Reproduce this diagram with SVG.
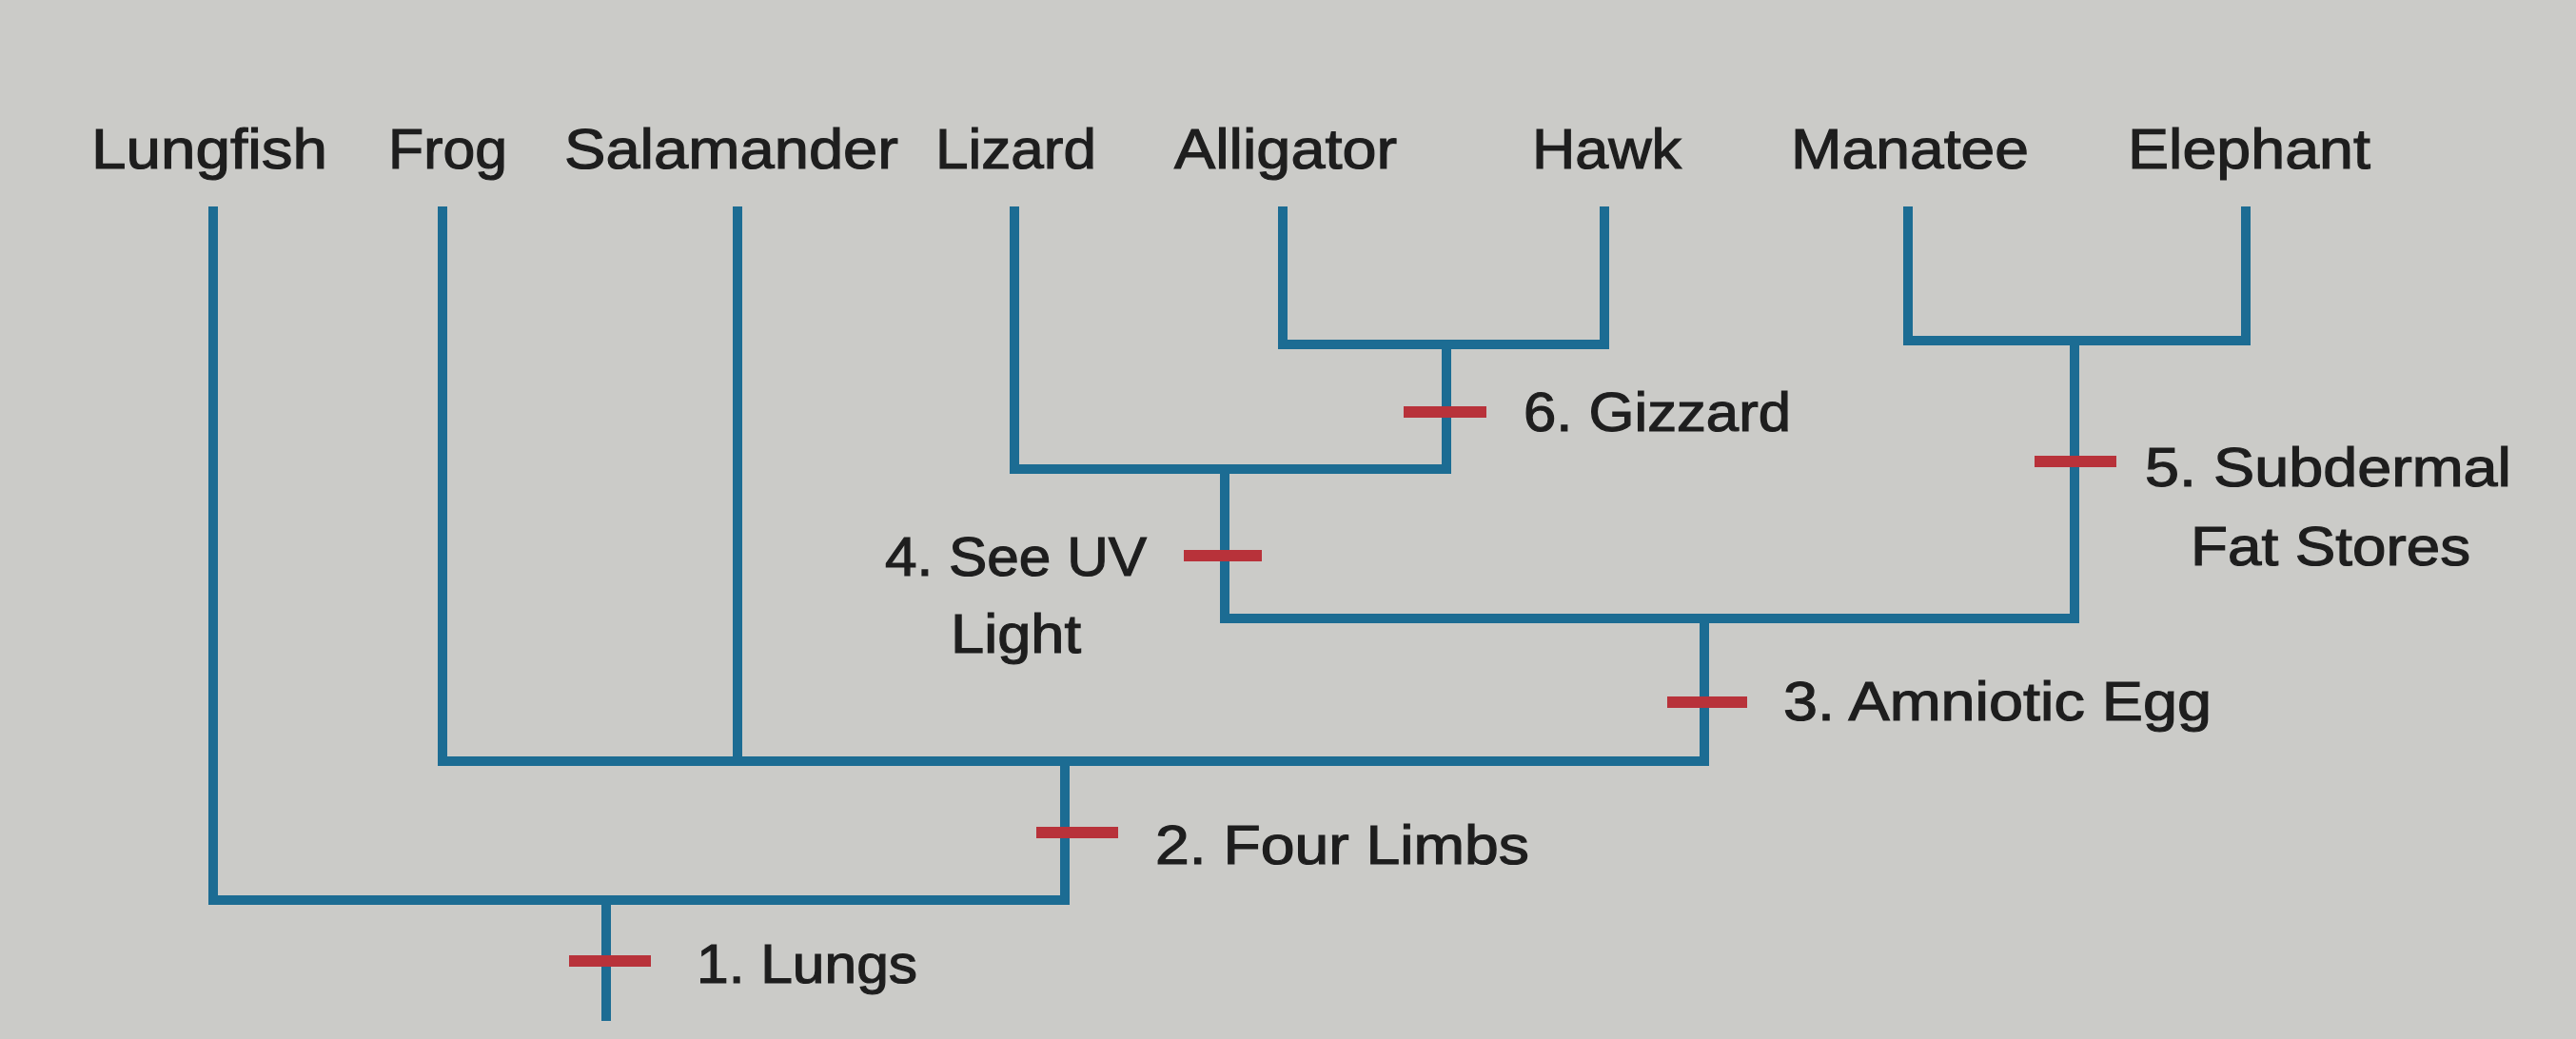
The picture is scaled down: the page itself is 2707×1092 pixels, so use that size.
<svg xmlns="http://www.w3.org/2000/svg" width="2707" height="1092" viewBox="0 0 2707 1092">
<style>
.bg{fill:#cbcbc8}
.lbl{font-family:"Liberation Sans",Arial,sans-serif;font-size:60px;fill:#1e1e1e;stroke:#1e1e1e;stroke-width:1.2}
.ann{font-family:"Liberation Sans",Arial,sans-serif;font-size:58px;fill:#1e1e1e;stroke:#1e1e1e;stroke-width:1.2}
.br{fill:none;stroke:#1c6c93;stroke-width:10;stroke-linecap:square;stroke-linejoin:miter}
.mk{fill:#b8323a}
</style>
<rect class="bg" x="0" y="0" width="2707" height="1092"/>
<g id="connectors">
<path class="br" d="M224 222V946H1119V800"/>
<path class="br" d="M465 222V800H1791V650"/>
<path class="br" d="M775 222V800"/>
<path class="br" d="M1066 222V493H1520V362"/>
<path class="br" d="M1348 222V362H1686V222"/>
<path class="br" d="M1287 493V650H2180V358"/>
<path class="br" d="M2005 222V358H2360V222"/>
<path class="br" d="M637 946V1068"/>
</g>
<g id="lungfish"><text class="lbl" x="96" y="177" textLength="248" lengthAdjust="spacingAndGlyphs">Lungfish</text></g>
<g id="frog"><text class="lbl" x="408" y="177" textLength="125" lengthAdjust="spacingAndGlyphs">Frog</text></g>
<g id="salamander"><text class="lbl" x="593" y="177" textLength="351" lengthAdjust="spacingAndGlyphs">Salamander</text></g>
<g id="lizard"><text class="lbl" x="983" y="177" textLength="169" lengthAdjust="spacingAndGlyphs">Lizard</text></g>
<g id="alligator"><text class="lbl" x="1234" y="177" textLength="234" lengthAdjust="spacingAndGlyphs">Alligator</text></g>
<g id="hawk"><text class="lbl" x="1610" y="177" textLength="157" lengthAdjust="spacingAndGlyphs">Hawk</text></g>
<g id="manatee"><text class="lbl" x="1882" y="177" textLength="250" lengthAdjust="spacingAndGlyphs">Manatee</text></g>
<g id="elephant"><text class="lbl" x="2236" y="177" textLength="255" lengthAdjust="spacingAndGlyphs">Elephant</text></g>
<g id="trait1"><rect class="mk" x="598" y="1004" width="86" height="12"/><text class="ann" x="732" y="1033" textLength="232" lengthAdjust="spacingAndGlyphs">1. Lungs</text></g>
<g id="trait2"><rect class="mk" x="1089" y="869" width="86" height="12"/><text class="ann" x="1214" y="908" textLength="393" lengthAdjust="spacingAndGlyphs">2. Four Limbs</text></g>
<g id="trait3"><rect class="mk" x="1752" y="732" width="84" height="12"/><text class="ann" x="1874" y="757" textLength="450" lengthAdjust="spacingAndGlyphs">3. Amniotic Egg</text></g>
<g id="trait4"><rect class="mk" x="1244" y="578" width="82" height="12"/><text class="ann" x="930" y="605" textLength="275" lengthAdjust="spacingAndGlyphs">4. See UV</text><text class="ann" x="999" y="686" textLength="137" lengthAdjust="spacingAndGlyphs">Light</text></g>
<g id="trait5"><rect class="mk" x="2138" y="479" width="86" height="12"/><text class="ann" x="2254" y="511" textLength="385" lengthAdjust="spacingAndGlyphs">5. Subdermal</text><text class="ann" x="2302" y="594" textLength="294" lengthAdjust="spacingAndGlyphs">Fat Stores</text></g>
<g id="trait6"><rect class="mk" x="1475" y="427" width="87" height="12"/><text class="ann" x="1601" y="453" textLength="281" lengthAdjust="spacingAndGlyphs">6. Gizzard</text></g>
</svg>
